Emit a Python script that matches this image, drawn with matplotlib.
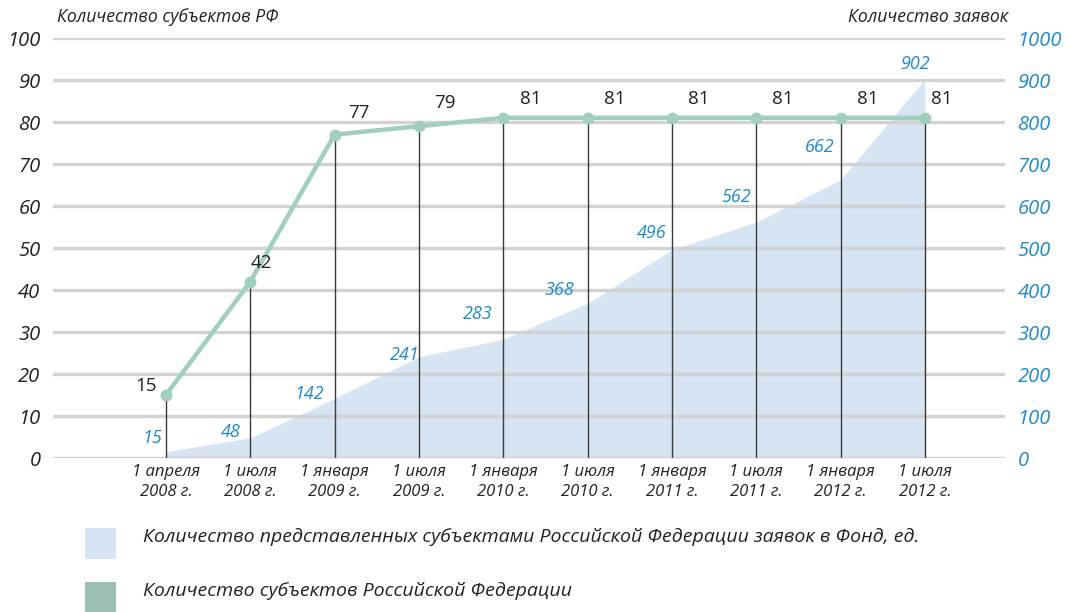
import matplotlib
matplotlib.use("Agg")
import matplotlib.pyplot as plt
from matplotlib.patches import Rectangle

# ---- data ----
dates = ["1 апреля\n2008 г.", "1 июля\n2008 г.", "1 января\n2009 г.", "1 июля\n2009 г.",
         "1 января\n2010 г.", "1 июля\n2010 г.", "1 января\n2011 г.", "1 июля\n2011 г.",
         "1 января\n2012 г.", "1 июля\n2012 г."]
subjects = [15, 42, 77, 79, 81, 81, 81, 81, 81, 81]
applications = [15, 48, 142, 241, 283, 368, 496, 562, 662, 902]
left_ticks = list(range(0, 101, 10))
right_ticks = list(range(0, 1001, 100))

title_left = "Количество субъектов РФ"
title_right = "Количество заявок"
legend_labels = ["Количество представленных субъектами Российской Федерации заявок в Фонд, ед.",
                 "Количество субъектов Российской Федерации"]

# ---- style ----
FILL = "#d6e4f4"
LINE = "#a0cfbe"
LEG_GREEN = "#9cbfb3"
BLUE_TXT = "#1f8acb"
GRID = "#d2d2d2"
DARK = "#222222"
plt.rcParams['font.family'] = ['Open Sans', 'DejaVu Sans']

# label offsets (pixels) for the value labels
app_off = [(-14, 14), (-20, 6), (-25, 4), (-14, 2), (-26, 25), (-28, 13), (-20, 17), (-20, 25), (-21, 33), (-10, 15)]
sub_off = [(-20, 9), (11, 19), (24, 22), (26, 23), (27, 19), (27, 19), (27, 19), (27, 19), (27, 19), (17, 19)]

fig = plt.figure(figsize=(10.65, 6.12), dpi=100)
ax2 = fig.add_axes([53 / 1065, 1 - 458 / 612, (1005 - 53) / 1065, (458 - 38) / 612])
ax1 = ax2.twinx()
ax1.yaxis.tick_left()
ax2.yaxis.tick_right()
ax1.set_zorder(ax2.get_zorder() + 1)
ax1.patch.set_visible(False)

x = list(range(len(dates)))
xlim = (-1.34, 9.95)

# area (right axis)
ax2.fill_between(x, 0, applications, color=FILL, lw=0, zorder=1)
ax2.set_ylim(0, 1000)
ax2.set_xlim(*xlim)
ax2.set_yticks(right_ticks)
ax2.set_yticklabels([str(t) for t in right_ticks], color=BLUE_TXT, fontsize=14.5, style='italic')
for t in right_ticks:
    ax2.axhline(t, color=GRID, lw=2.4, zorder=2)
ax2.tick_params(axis='y', length=0, pad=9)
ax2.tick_params(axis='x', length=0)

for xi, v, (dx, dy) in zip(x, applications, app_off):
    ax2.annotate(str(v), (xi, v), xytext=(dx * 0.72, dy * 0.72), textcoords='offset points',
                 ha='center', va='center', color=BLUE_TXT, fontsize=13, style='italic', zorder=5)

# line (left axis)
ax1.set_ylim(0, 100)
ax1.set_xlim(*xlim)
ax1.vlines(x, 0, subjects, color="#3a3a3a", lw=1.0, zorder=3)
ax1.plot(x, subjects, color=LINE, lw=3.2, marker='o', ms=7.5, zorder=4)
ax1.set_yticks(left_ticks)
ax1.set_yticklabels([str(t) for t in left_ticks], color=DARK, fontsize=14.5, style='italic')
ax1.tick_params(axis='y', length=0, pad=9)
for xi, v, (dx, dy) in zip(x, subjects, sub_off):
    ax1.annotate(str(v), (xi, v), xytext=(dx * 0.72, dy * 0.72), textcoords='offset points',
                 ha='center', va='center', color=DARK, fontsize=13.5, zorder=5)

ax2.set_xticks(x)
ax2.set_xticklabels(dates, fontsize=12, style='italic', color=DARK, linespacing=1.4)
ax2.tick_params(axis='x', pad=4)
ax1.tick_params(axis='x', length=0, labelbottom=False)

for a in (ax1, ax2):
    for s in a.spines.values():
        s.set_visible(False)

fig.text(57 / 1065, 1 - 17 / 612, title_left, ha='left', va='center', fontsize=12.7,
         style='italic', color=DARK)
fig.text(1008 / 1065, 1 - 17 / 612, title_right, ha='right', va='center', fontsize=12.7,
         style='italic', color=DARK)

# legend
fig.patches.append(Rectangle((85 / 1065, 1 - 559 / 612), 31 / 1065, 31 / 612,
                             transform=fig.transFigure, color=FILL, lw=0))
fig.patches.append(Rectangle((85 / 1065, 1 - 613 / 612), 31 / 1065, 31 / 612,
                             transform=fig.transFigure, color=LEG_GREEN, lw=0))
fig.text(143 / 1065, 1 - 537 / 612, legend_labels[0], ha='left', va='center', fontsize=14,
         style='italic', color=DARK)
fig.text(143 / 1065, 1 - 591 / 612, legend_labels[1], ha='left', va='center', fontsize=14,
         style='italic', color=DARK)

fig.savefig("out.png", dpi=100)
